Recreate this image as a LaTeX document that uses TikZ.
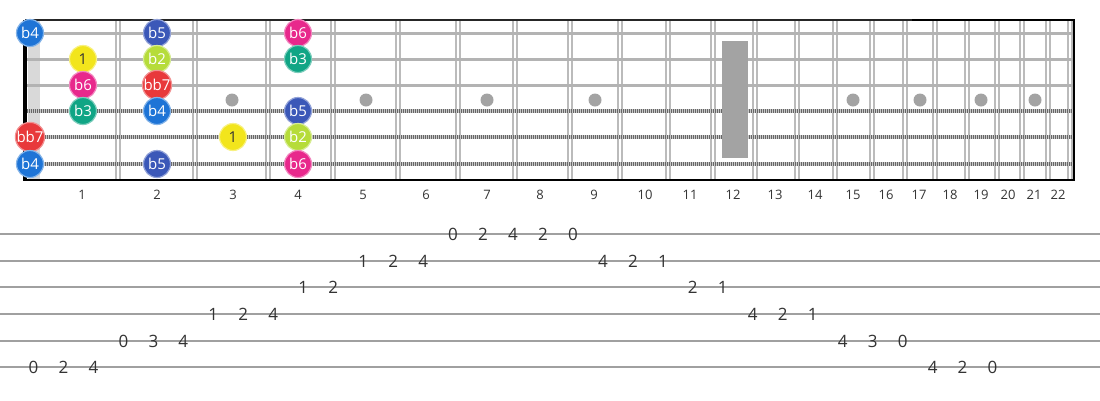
\documentclass[tikz,border=0pt]{standalone}
\usepackage{fontspec}
\setmainfont{Open Sans}
\definecolor{cBfour}{HTML}{1E74D6}
\definecolor{cBfive}{HTML}{3B58B8}
\definecolor{cBsix}{HTML}{E8288C}
\definecolor{cBthree}{HTML}{10A585}
\definecolor{cOne}{HTML}{F2E51C}
\definecolor{cBtwo}{HTML}{B6DC3A}
\definecolor{cBBseven}{HTML}{E8393B}
\definecolor{fretgray}{HTML}{BBBBBB}
\definecolor{stringgray}{HTML}{B3B3B3}
\definecolor{woundlight}{HTML}{C8C8C8}
\definecolor{wounddark}{HTML}{666666}
\definecolor{inlaygray}{HTML}{A3A3A3}
\definecolor{tabline}{HTML}{A0A0A0}
\definecolor{txt}{HTML}{333333}
\tikzset{
  note/.style={circle, minimum size=27pt, inner sep=0pt, fill=#1, draw=#1!55!white,
    line width=1.2pt, text=white, font=\fontsize{15}{15}\selectfont},
  darknote/.style={note=#1, text=txt},
  fretwire/.style={draw=fretgray, line width=1.5pt},
  plainstring/.style={draw=stringgray, line width=3pt},
  woundbase/.style={draw=woundlight, line width=4pt},
  woundtex/.style={draw=wounddark, line width=4pt, dash pattern=on 1.1pt off 0.9pt},
  fretnum/.style={text=txt, font=\fontsize{13}{13}\selectfont, inner sep=0pt},
  tabnum/.style={text=txt, font=\fontsize{17}{17}\selectfont, inner sep=0pt},
  tabstaff/.style={draw=tabline, line width=2pt},
}
\begin{document}
\begin{tikzpicture}[x=1pt, y=-1pt]
\useasboundingbox (0,0) rectangle (1100,400);
% nut light bar
\fill[gray!30] (28,20) rectangle (40,180);
% fret wires
\foreach \fx in {118,195,268,333,398,458,515,570,620,668,713,755,797,835,872,905,935,967,997,1022,1048,1070} {
  \draw[fretwire] (\fx-2,20) -- (\fx-2,180);
  \draw[fretwire] (\fx+2,20) -- (\fx+2,180);
}
% strings
\foreach \sy in {33,59,85} {
  \draw[plainstring] (25,\sy) -- (1073,\sy);
}
\foreach \sy in {111,137,164} {
  \draw[woundbase] (25,\sy) -- (1073,\sy);
  \draw[woundtex] (25,\sy) -- (1073,\sy);
}
% inlays
\foreach \ix in {232,366,487,595,853,920,981,1035} {
  \fill[inlaygray] (\ix,100) circle (6.5);
}
\fill[inlaygray] (722,41) rectangle (748,158);
% borders
\draw[black!85, line width=1.3pt] (25,20) -- (912,20);
\draw[black, line width=2pt] (912,20) -- (1074,20);
\draw[black, line width=2pt] (1074,19) -- (1074,181);
\draw[black, line width=2pt] (24,180) -- (1074,180);
\draw[black, line width=3.5pt] (25,20) -- (25,181);
% fret numbers
\foreach \n/\lx in {1/82,2/157,3/233,4/298,5/363,6/426,7/487,8/540,9/594,10/645,11/690,12/733,13/775,14/815,15/853,16/886,17/919,18/950,19/981,20/1008,21/1034,22/1058} {
  \node[fretnum] (fn\n) at (\lx,195) {\n};
}
% notes
\node[note=cBfour] (s1f0) at (30,33) {b4};
\node[note=cBfive] (s1f2) at (157,33) {b5};
\node[note=cBsix] (s1f4) at (298,33) {b6};
\node[darknote=cOne] (s2f1) at (83,59) {1};
\node[note=cBtwo] (s2f2) at (157,59) {b2};
\node[note=cBthree] (s2f4) at (298,59) {b3};
\node[note=cBsix] (s3f1) at (83,85) {b6};
\node[note=cBBseven] (s3f2) at (157,85) {bb7};
\node[note=cBthree] (s4f1) at (83,111) {b3};
\node[note=cBfour] (s4f2) at (157,111) {b4};
\node[note=cBfive] (s4f4) at (298,111) {b5};
\node[note=cBBseven] (s5f0) at (30,137) {bb7};
\node[darknote=cOne] (s5f3) at (233,137) {1};
\node[note=cBtwo] (s5f4) at (298,137) {b2};
\node[note=cBfour] (s6f0) at (30,164) {b4};
\node[note=cBfive] (s6f2) at (157,164) {b5};
\node[note=cBsix] (s6f4) at (298,164) {b6};
% tab staff
\foreach \ty in {234,261,287,314,341,367} {
  \draw[tabstaff] (0,\ty) -- (1100,\ty);
}
% tab numbers: index k, line y, digit
\foreach \k/\ty/\d in {0/367/0,1/367/2,2/367/4,3/341/0,4/341/3,5/341/4,6/314/1,7/314/2,8/314/4,9/287/1,10/287/2,11/261/1,12/261/2,13/261/4,14/234/0,15/234/2,16/234/4,17/234/2,18/234/0,19/261/4,20/261/2,21/261/1,22/287/2,23/287/1,24/314/4,25/314/2,26/314/1,27/341/4,28/341/3,29/341/0,30/367/4,31/367/2,32/367/0} {
  \node[tabnum] (t\k) at ({33.5+29.97*\k},\ty) {\d};
}
\end{tikzpicture}
\end{document}
